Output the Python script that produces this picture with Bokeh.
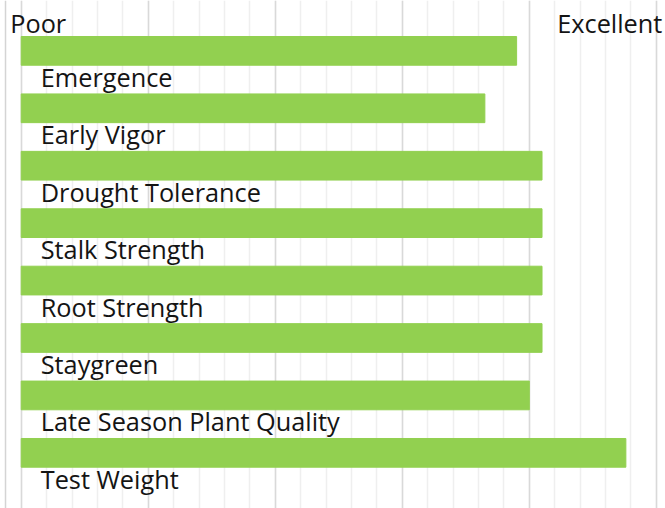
from bokeh.plotting import figure
from bokeh.models import ColumnDataSource, Range1d, FixedTicker, Span
from bokeh.core.properties import value
from bokeh.embed import file_html
from bokeh.resources import INLINE

# ---- data ----
traits = ["Emergence", "Early Vigor", "Drought Tolerance", "Stalk Strength",
          "Root Strength", "Staygreen", "Late Season Plant Quality", "Test Weight"]
scores = [19.5, 18.25, 20.5, 20.5, 20.5, 20.5, 20.0, 23.8]
scale_min = 0
scale_max = 25
scale_labels = ["Poor", "Excellent"]
major_ticks = list(range(scale_min, scale_max + 1, 5))
minor_ticks = list(range(scale_min, scale_max + 1, 1))

src = ColumnDataSource(dict(idx=list(range(len(traits))), trait=traits, score=scores))

FONT = value("Open Sans")
SIZE = value("25.3px")
TXT = "#141414"

p = figure(width=665, height=508, output_backend="svg", toolbar_location=None,
           x_range=Range1d(-0.815, 25.36), y_range=Range1d(7.969, -0.877),
           min_border=0, outline_line_color=None, background_fill_color="white")
p.xaxis.visible = False
p.yaxis.visible = False
p.ygrid.visible = False
p.xgrid.ticker = FixedTicker(ticks=major_ticks, minor_ticks=minor_ticks)
p.xgrid.grid_line_color = "#d9d9d9"
p.xgrid.grid_line_width = 1.5
p.xgrid.minor_grid_line_color = "#efefef"
p.xgrid.minor_grid_line_width = 1.5

p.add_layout(Span(location=-0.618, dimension="height", line_color="#d4d4d4", line_width=1.5))

p.hbar(y="idx", left=scale_min, right="score", height=0.5, color="#92d050", source=src)

p.text(x=scale_min, y="idx", text="trait", source=src, x_offset=19.5, y_offset=26,
       text_align="left", text_baseline="alphabetic",
       text_font=FONT, text_font_size=SIZE, text_color=TXT)

p.text(x=[scale_min], y=[0], text=[scale_labels[0]], x_offset=-11, y_offset=-27.5,
       text_align="left", text_baseline="alphabetic",
       text_font=FONT, text_font_size=SIZE, text_color=TXT)
p.text(x=[scale_max], y=[0], text=[scale_labels[1]], x_offset=6, y_offset=-27.5,
       text_align="right", text_baseline="alphabetic",
       text_font=FONT, text_font_size=SIZE, text_color=TXT)

open("out.html", "w").write(file_html(p, INLINE))
